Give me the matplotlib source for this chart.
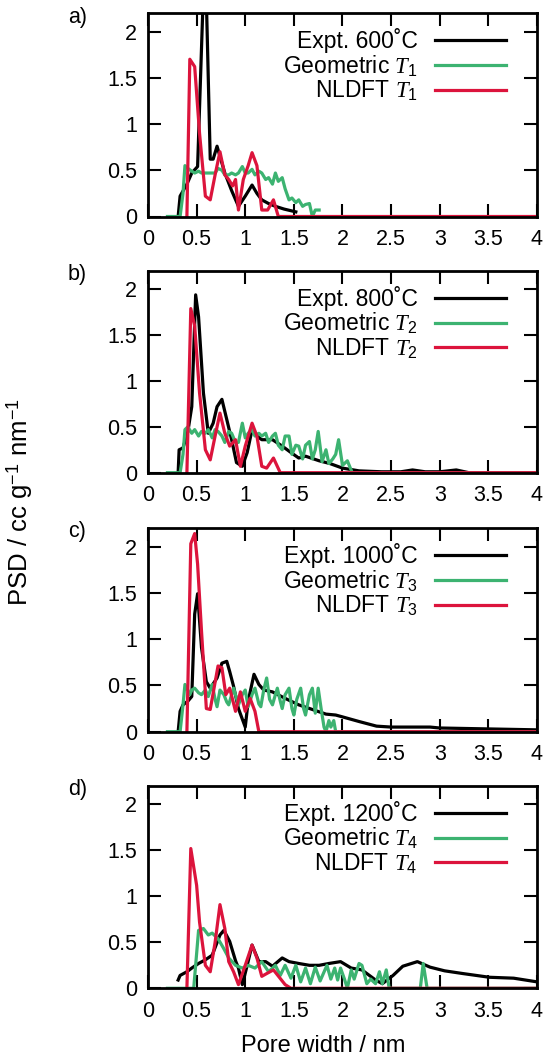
import numpy as np
import matplotlib
matplotlib.use('Agg')
import matplotlib.pyplot as plt

plt.rcParams['font.family'] = ['Liberation Sans', 'DejaVu Sans']
plt.rcParams['mathtext.fontset'] = 'custom'
plt.rcParams['mathtext.rm'] = 'Liberation Sans'
plt.rcParams['mathtext.it'] = 'Liberation Serif:italic'
plt.rcParams['mathtext.bf'] = 'Liberation Sans:bold'

# ---- data ----
# panel a : 600 C / T1
expt_a_x = [0.31, 0.33, 0.40, 0.45, 0.51, 0.57, 0.60, 0.64, 0.67, 0.71, 0.74, 0.79, 0.86, 0.93, 1.00,
            1.07, 1.12, 1.17, 1.24, 1.31, 1.40, 1.52]
expt_a_y = [0.00, 0.22, 0.35, 0.47, 0.54, 2.45, 2.35, 0.62, 0.62, 0.76, 0.65, 0.47, 0.28, 0.11, 0.22,
            0.34, 0.25, 0.18, 0.14, 0.11, 0.08, 0.05]
geom_a_x = [0.20, 0.33, 0.36, 0.38, 0.41, 0.45, 0.48, 0.52, 0.55, 0.59, 0.62, 0.66, 0.69, 0.72, 0.76,
            0.79, 0.83, 0.86, 0.90, 0.93, 0.97, 1.00, 1.03, 1.07, 1.10, 1.14, 1.17, 1.21, 1.24, 1.28,
            1.31, 1.34, 1.38, 1.41, 1.45, 1.48, 1.52, 1.55, 1.59, 1.62, 1.66, 1.69, 1.72, 1.76]
geom_a_y = [0.00, 0.00, 0.25, 0.55, 0.52, 0.49, 0.47, 0.49, 0.47, 0.47, 0.47, 0.47, 0.47, 0.52, 0.50,
            0.45, 0.45, 0.47, 0.45, 0.47, 0.54, 0.47, 0.47, 0.51, 0.45, 0.49, 0.47, 0.40, 0.42, 0.35,
            0.47, 0.38, 0.42, 0.30, 0.18, 0.20, 0.15, 0.18, 0.11, 0.13, 0.14, 0.00, 0.07, 0.07]
nldft_a_x = [0.40, 0.43, 0.48, 0.53, 0.59, 0.64, 0.69, 0.74, 0.79, 0.83, 0.87, 0.90, 0.93, 0.98, 1.03,
             1.07, 1.12, 1.17, 1.23, 1.29, 1.34, 4.00]
nldft_a_y = [0.00, 1.70, 1.62, 0.90, 0.22, 0.18, 0.45, 0.70, 0.45, 0.40, 0.33, 0.40, 0.07, 0.40, 0.55,
             0.69, 0.55, 0.07, 0.07, 0.18, 0.00, 0.00]

# panel b : 800 C / T2
expt_b_x = [0.31, 0.32, 0.36, 0.41, 0.45, 0.49, 0.52, 0.57, 0.62, 0.67, 0.71, 0.76, 0.81, 0.86, 0.91,
            0.97, 1.02, 1.07, 1.12, 1.17, 1.28, 1.38, 1.47, 1.55, 1.62, 1.76, 1.87, 2.00, 2.17, 2.40,
            2.60, 2.72, 2.85, 3.00, 3.17, 3.30, 4.00]
expt_b_y = [0.00, 0.25, 0.27, 0.45, 0.72, 1.94, 1.70, 0.87, 0.43, 0.54, 0.72, 0.80, 0.58, 0.36, 0.11,
            0.07, 0.22, 0.47, 0.40, 0.36, 0.36, 0.29, 0.22, 0.16, 0.18, 0.13, 0.10, 0.05, 0.02, 0.01,
            0.01, 0.03, 0.01, 0.01, 0.03, 0.00, 0.00]
geom_b_x = [0.20, 0.33, 0.36, 0.38, 0.41, 0.45, 0.48, 0.52, 0.55, 0.59, 0.62, 0.66, 0.69, 0.72, 0.76,
            0.79, 0.83, 0.86, 0.90, 0.93, 0.97, 1.00, 1.03, 1.07, 1.10, 1.14, 1.17, 1.21, 1.24, 1.28,
            1.31, 1.34, 1.38, 1.41, 1.45, 1.48, 1.52, 1.55, 1.59, 1.62, 1.66, 1.69, 1.72, 1.75, 1.79,
            1.83, 1.86, 1.90, 1.93, 1.96, 2.00, 2.05, 2.10, 4.00]
geom_b_y = [0.00, 0.00, 0.20, 0.47, 0.50, 0.43, 0.47, 0.40, 0.45, 0.43, 0.47, 0.38, 0.47, 0.45, 0.40,
            0.33, 0.45, 0.43, 0.33, 0.33, 0.54, 0.38, 0.43, 0.47, 0.40, 0.43, 0.40, 0.43, 0.33, 0.40,
            0.43, 0.30, 0.25, 0.40, 0.40, 0.20, 0.30, 0.29, 0.15, 0.30, 0.34, 0.15, 0.25, 0.45, 0.12,
            0.25, 0.10, 0.15, 0.20, 0.36, 0.08, 0.13, 0.00, 0.00]
nldft_b_x = [0.40, 0.44, 0.48, 0.53, 0.59, 0.64, 0.69, 0.74, 0.79, 0.84, 0.90, 0.95, 1.00, 1.07, 1.12,
             1.17, 1.22, 1.29, 1.36, 4.00]
nldft_b_y = [0.00, 1.79, 1.60, 0.87, 0.25, 0.14, 0.40, 0.65, 0.43, 0.29, 0.36, 0.07, 0.29, 0.54, 0.40,
             0.07, 0.05, 0.16, 0.00, 0.00]

# panel c : 1000 C / T3
expt_c_x = [0.31, 0.33, 0.36, 0.41, 0.45, 0.48, 0.51, 0.55, 0.60, 0.64, 0.71, 0.76, 0.81, 0.84, 0.88,
            0.93, 1.00, 1.03, 1.09, 1.14, 1.19, 1.28, 1.41, 1.55, 1.69, 1.83, 1.93, 2.00, 2.17, 2.35,
            2.50, 2.90, 3.00, 3.50, 4.00]
expt_c_y = [0.00, 0.22, 0.29, 0.33, 0.38, 1.27, 1.49, 0.91, 0.54, 0.47, 0.58, 0.74, 0.76, 0.65, 0.49,
            0.25, 0.05, 0.33, 0.62, 0.51, 0.45, 0.43, 0.36, 0.29, 0.24, 0.19, 0.18, 0.16, 0.11, 0.06,
            0.05, 0.05, 0.04, 0.03, 0.02]
geom_c_x = [0.20, 0.33, 0.36, 0.38, 0.41, 0.43, 0.45, 0.48, 0.52, 0.55, 0.59, 0.62, 0.66, 0.69, 0.71,
            0.74, 0.78, 0.81, 0.83, 0.86, 0.88, 0.93, 0.97, 1.00, 1.03, 1.07, 1.10, 1.14, 1.16, 1.19,
            1.22, 1.25, 1.28, 1.31, 1.33, 1.36, 1.38, 1.41, 1.45, 1.48, 1.50, 1.53, 1.57, 1.60, 1.62,
            1.66, 1.69, 1.72, 1.75, 1.78, 1.81, 1.83, 1.86, 1.88, 1.91, 1.93, 4.00]
geom_c_y = [0.00, 0.00, 0.29, 0.51, 0.45, 0.40, 0.45, 0.47, 0.42, 0.40, 0.45, 0.38, 0.51, 0.35, 0.27,
            0.45, 0.40, 0.32, 0.29, 0.40, 0.47, 0.29, 0.40, 0.45, 0.27, 0.40, 0.47, 0.30, 0.27, 0.45,
            0.58, 0.35, 0.29, 0.40, 0.47, 0.33, 0.25, 0.40, 0.47, 0.25, 0.18, 0.35, 0.47, 0.25, 0.18,
            0.40, 0.47, 0.20, 0.47, 0.25, 0.05, 0.00, 0.12, 0.05, 0.12, 0.00, 0.00]
nldft_c_x = [0.40, 0.44, 0.48, 0.51, 0.55, 0.60, 0.64, 0.72, 0.76, 0.80, 0.84, 0.90, 0.95, 1.00, 1.05,
             1.10, 1.14, 4.00]
nldft_c_y = [0.00, 2.03, 2.14, 1.81, 1.09, 0.25, 0.24, 0.71, 0.69, 0.40, 0.47, 0.22, 0.43, 0.22, 0.36,
             0.22, 0.00, 0.00]

# panel d : 1200 C / T4
expt_d_x = [0.31, 0.33, 0.40, 0.45, 0.52, 0.59, 0.66, 0.74, 0.78, 0.84, 0.90, 0.93, 0.97, 1.02, 1.07,
            1.14, 1.21, 1.28, 1.38, 1.45, 1.55, 1.66, 1.76, 1.86, 1.98, 2.09, 2.20, 2.34, 2.41, 2.52,
            2.62, 2.77, 2.90, 3.05, 3.24, 3.51, 3.76, 4.00]
expt_d_y = [0.09, 0.14, 0.18, 0.22, 0.27, 0.31, 0.36, 0.58, 0.63, 0.51, 0.30, 0.22, 0.04, 0.25, 0.47,
            0.29, 0.29, 0.24, 0.33, 0.29, 0.27, 0.25, 0.25, 0.27, 0.29, 0.22, 0.20, 0.09, 0.05, 0.14,
            0.24, 0.29, 0.23, 0.19, 0.16, 0.12, 0.11, 0.07]
geom_d_x = [0.20, 0.47, 0.52, 0.57, 0.62, 0.66, 0.72, 0.78, 0.83, 0.90, 0.97, 1.03, 1.10, 1.17, 1.24,
            1.31, 1.36, 1.41, 1.47, 1.52, 1.57, 1.62, 1.67, 1.72, 1.77, 1.84, 1.88, 1.92, 1.95, 1.98,
            2.02, 2.05, 2.09, 2.12, 2.17, 2.20, 2.25, 2.29, 2.34, 2.38, 2.41, 2.45, 2.48, 2.80, 2.83,
            2.87, 4.00]
geom_d_y = [0.00, 0.00, 0.63, 0.65, 0.58, 0.60, 0.54, 0.43, 0.33, 0.25, 0.22, 0.25, 0.22, 0.29, 0.18,
            0.25, 0.14, 0.25, 0.11, 0.25, 0.07, 0.22, 0.05, 0.23, 0.08, 0.25, 0.10, 0.22, 0.09, 0.22,
            0.10, 0.00, 0.20, 0.10, 0.27, 0.25, 0.05, 0.10, 0.05, 0.18, 0.05, 0.20, 0.00, 0.00, 0.27,
            0.00, 0.00]
nldft_d_x = [0.40, 0.44, 0.50, 0.53, 0.59, 0.64, 0.69, 0.74, 0.79, 0.83, 0.88, 0.93, 1.00, 1.07, 1.12,
             1.17, 1.22, 1.29, 1.35, 1.41, 1.47, 4.00]
nldft_d_y = [0.00, 1.52, 1.12, 0.72, 0.25, 0.18, 0.50, 0.91, 0.65, 0.29, 0.18, 0.04, 0.25, 0.47, 0.33,
             0.13, 0.16, 0.20, 0.12, 0.04, 0.00, 0.00]

panel_tags = ['a)', 'b)', 'c)', 'd)']
temps = ['600', '800', '1000', '1200']
xticks = [0, 0.5, 1, 1.5, 2, 2.5, 3, 3.5, 4]
xtick_labels = ['0', '0.5', '1', '1.5', '2', '2.5', '3', '3.5', '4']
yticks = [0, 0.5, 1, 1.5, 2]
ytick_labels = ['0', '0.5', '1', '1.5', '2']

expt = [(expt_a_x, expt_a_y), (expt_b_x, expt_b_y), (expt_c_x, expt_c_y), (expt_d_x, expt_d_y)]
geom = [(geom_a_x, geom_a_y), (geom_b_x, geom_b_y), (geom_c_x, geom_c_y), (geom_d_x, geom_d_y)]
nldft = [(nldft_a_x, nldft_a_y), (nldft_b_x, nldft_b_y), (nldft_c_x, nldft_c_y), (nldft_d_x, nldft_d_y)]

# ---- figure ----
W, H = 555, 1064
fig = plt.figure(figsize=(W / 100, H / 100), dpi=100)

# axes boxes in pixels: (top, bottom)
boxes = [(13, 216.5), (271, 472.7), (528, 731.7), (786, 988.3)]
left_px, right_px = 148, 537
fs = 15.5
fs_leg = 16.5
green = '#3cb371'
red = '#dc143c'
lw = 2.3

for i in range(4):
    top, bot = boxes[i]
    ax = fig.add_axes([left_px / W, 1 - bot / H, (right_px - left_px) / W, (bot - top) / H])
    ax.plot(expt[i][0], expt[i][1], color='black', lw=lw, label='Expt. %s˚C' % temps[i])
    ax.plot(geom[i][0], geom[i][1], color=green, lw=lw, label='Geometric $T_%d$' % (i + 1))
    ax.plot(nldft[i][0], nldft[i][1], color=red, lw=lw, label='NLDFT $T_%d$' % (i + 1))
    ax.set_xlim(0, 4)
    ax.set_ylim(0, 2.2)
    ax.set_xticks(xticks)
    ax.set_xticklabels(xtick_labels)
    ax.set_yticks(yticks)
    ax.set_yticklabels(ytick_labels)
    ax.tick_params(direction='in', length=9.5, width=1.5, labelsize=fs,
                   top=True, right=True)
    ax.tick_params(axis='x', pad=9)
    ax.tick_params(axis='y', pad=8)
    for s in ax.spines.values():
        s.set_linewidth(2.0)
    ax.legend(loc='upper right', bbox_to_anchor=(0.92, 0.925), frameon=False,
              markerfirst=False, fontsize=fs_leg, handlelength=3.1, handletextpad=0.75,
              labelspacing=0.0, borderpad=0, borderaxespad=0)
    fig.text(68 / W, 1 - (top + 4) / H, panel_tags[i], fontsize=fs, ha='left', va='center')

fig.text(20 / W, 1 - 502 / H, 'PSD / cc g$^{-1}$ nm$^{-1}$', fontsize=18.5, rotation=90,
         ha='center', va='center')
fig.text(323.5 / W, 1 - 1046 / H, 'Pore width / nm', fontsize=17, ha='center', va='center')

fig.savefig('out.png', dpi=100)
